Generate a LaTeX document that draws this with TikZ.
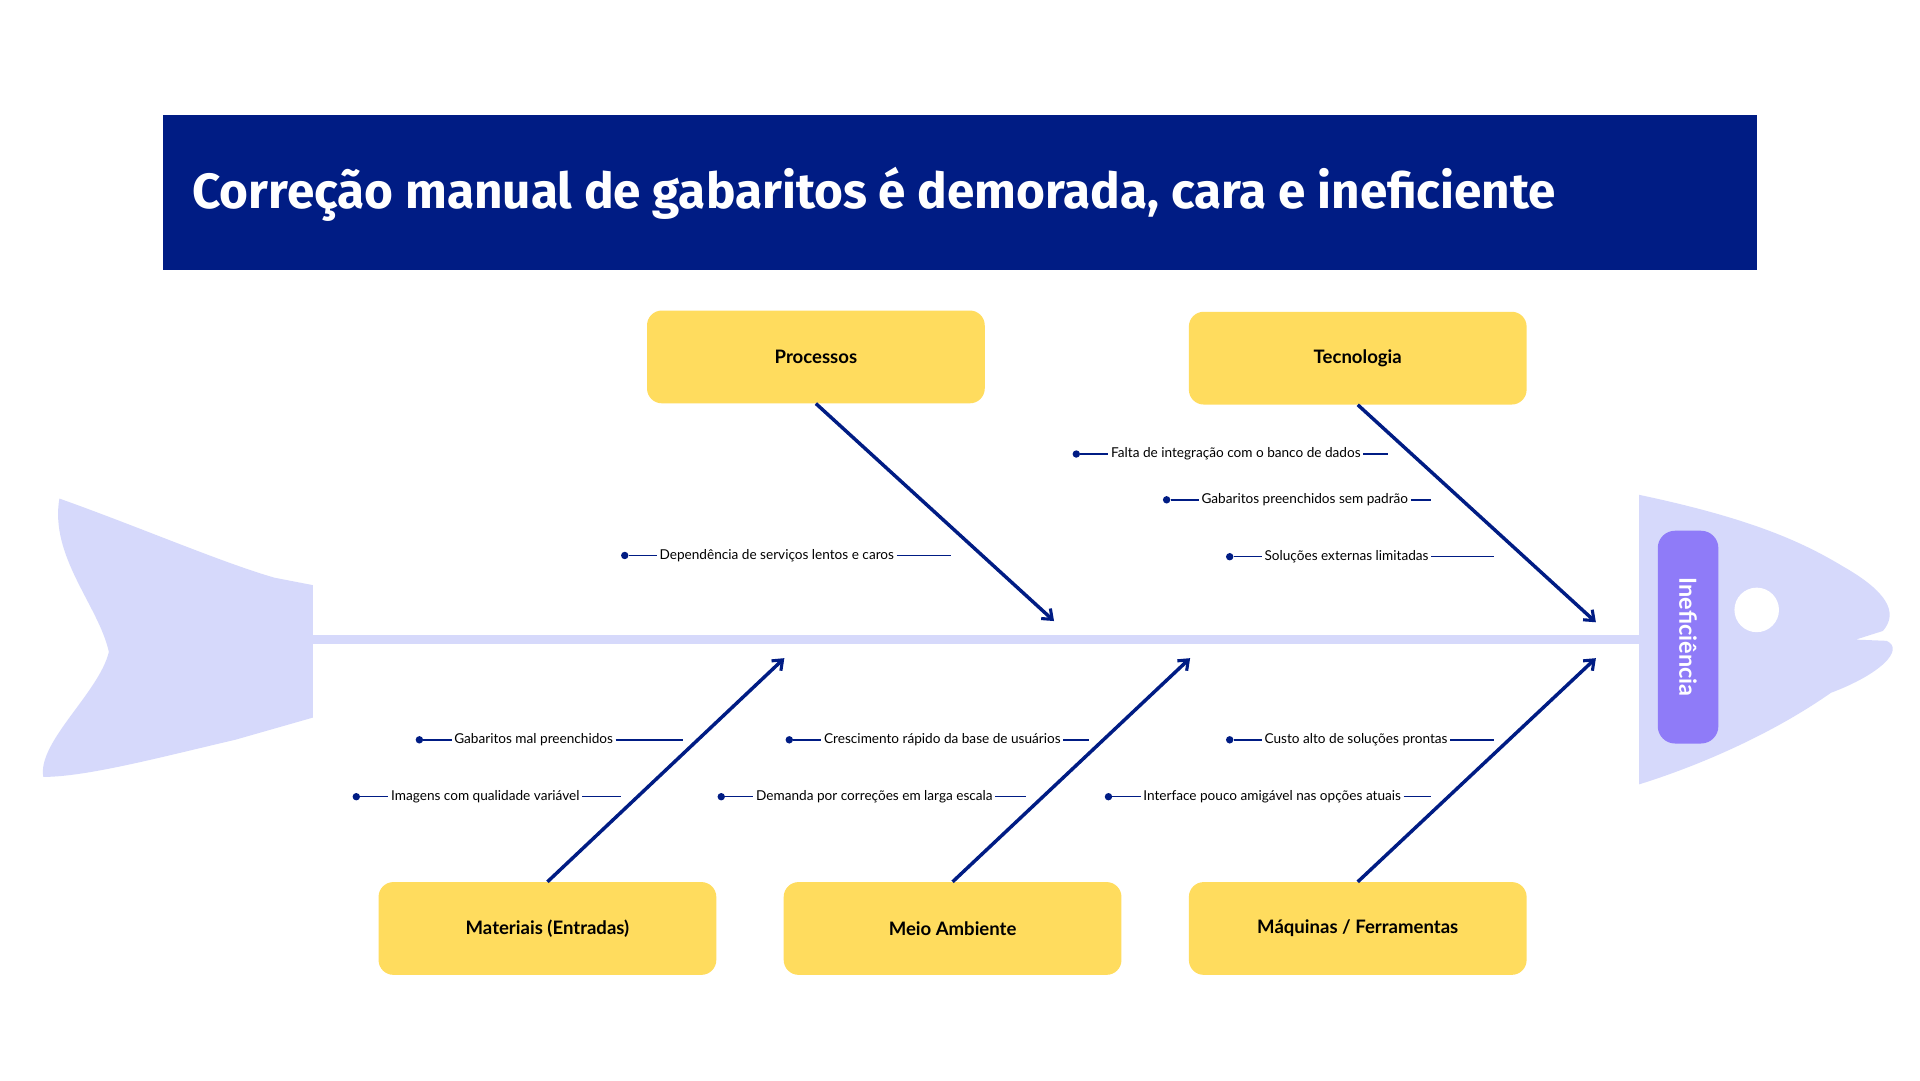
\documentclass[tikz,border=0pt]{standalone}
\usepackage{fontspec}
\setmainfont{Lato}
\newfontfamily\titlef{Fira Sans}
\usetikzlibrary{arrows.meta}
\definecolor{navy}{HTML}{001C84}
\definecolor{fishc}{HTML}{D6D9FB}
\definecolor{yel}{HTML}{FFDC5E}
\definecolor{purp}{HTML}{8F7BF8}
\tikzset{
 x=1pt,y=-1pt,
 cat/.style={fill=yel,rounded corners=12pt,minimum width=273pt,minimum height=75pt,font=\fontsize{15}{17}\selectfont\bfseries,text=black},
 bone/.style={draw=navy,line width=2.8pt,-{Straight Barb[length=7pt,width=11pt,line width=2.5pt]}},
 cdot/.style={circle,fill=navy,inner sep=0pt,minimum size=6pt},
 ctext/.style={font=\fontsize{11}{13}\selectfont,anchor=west,inner sep=2pt,text=black},
 cline/.style={draw=navy,line width=1.2pt}
}
\newcommand{\cause}[5]{% name, x, y, endx, text
 \node[cdot] (#1d) at (#2,#3) {};
 \node[ctext] (#1t) at (#2+26,#3) {#5};
 \coordinate (#1e) at (#4,#3);
 \draw[cline] (#1d) -- (#1t.west);
 \draw[cline] (#1t.east) -- (#1e);
}
\begin{document}
\begin{tikzpicture}
\useasboundingbox[fill=white] (0,0) rectangle (1552,873);
% title
\fill[navy] (132,93) rectangle (1420,218);
\node[anchor=west,text=white,font=\titlef\fontsize{40}{44}\selectfont\bfseries] (title) at (152,157) {Correção manual de gabaritos é demorada, cara e ineficiente};
% tail
\fill[fishc] (48,403) .. controls (110,425) and (180,455) .. (222,467) -- (253,473) -- (253,580) -- (190,598)
 .. controls (130,612) and (70,628) .. (35,628) .. controls (30,600) and (80,560) .. (88,527)
 .. controls (80,490) and (40,450) .. (48,403) -- cycle;
% spine
\fill[fishc] (253,513.5) rectangle (1327,520.5);
% head
\fill[fishc] (1325,400) .. controls (1420,420) and (1460,440) .. (1490,458)
 .. controls (1525,478) and (1535,495) .. (1522,510) -- (1500,517) -- (1525,518)
 .. controls (1540,525) and (1520,545) .. (1480,560)
 .. controls (1430,595) and (1370,620) .. (1325,634) -- cycle;
\fill[white] (1420,493) circle (18);
\node[fill=purp,rounded corners=14pt,minimum width=172pt,minimum height=49pt,rotate=-90,text=white,font=\fontsize{19}{21}\selectfont\bfseries] (eff) at (1364.5,515) {Ineficiência};
% categories
\node[cat] (proc) at (659.5,288.5) {Processos};
\node[cat] (tec) at (1097.5,289.5) {Tecnologia};
\node[cat] (mat) at (442.5,750.5) {Materiais (Entradas)};
\node[cat] (meio) at (770,750.5) {Meio Ambiente};
\node[cat] (maq) at (1097.5,750.5) {Máquinas / Ferramentas};
\coordinate (p1) at (852,502);
\coordinate (p2) at (1290,503);
\coordinate (p3) at (634,532);
\coordinate (p4) at (962,532);
\coordinate (p5) at (1290,532);
\draw[bone] (proc.south) -- (p1);
\draw[bone] (tec.south) -- (p2);
\draw[bone] (mat.north) -- (p3);
\draw[bone] (meio.north) -- (p4);
\draw[bone] (maq.north) -- (p5);
% causes
\cause{a}{505}{449}{769}{Dependência de serviços lentos e caros}
\cause{b}{870}{367}{1122}{Falta de integração com o banco de dados}
\cause{c}{943}{404}{1157}{Gabaritos preenchidos sem padrão}
\cause{d}{994}{450}{1208}{Soluções externas limitadas}
\cause{e}{339}{598}{552}{Gabaritos mal preenchidos}
\cause{f}{288}{644}{502}{Imagens com qualidade variável}
\cause{g}{638}{598}{880}{Crescimento rápido da base de usuários}
\cause{h}{583}{644}{829}{Demanda por correções em larga escala}
\cause{i}{994}{598}{1208}{Custo alto de soluções prontas}
\cause{j}{896}{644}{1157}{Interface pouco amigável nas opções atuais}
\end{tikzpicture}
\end{document}
